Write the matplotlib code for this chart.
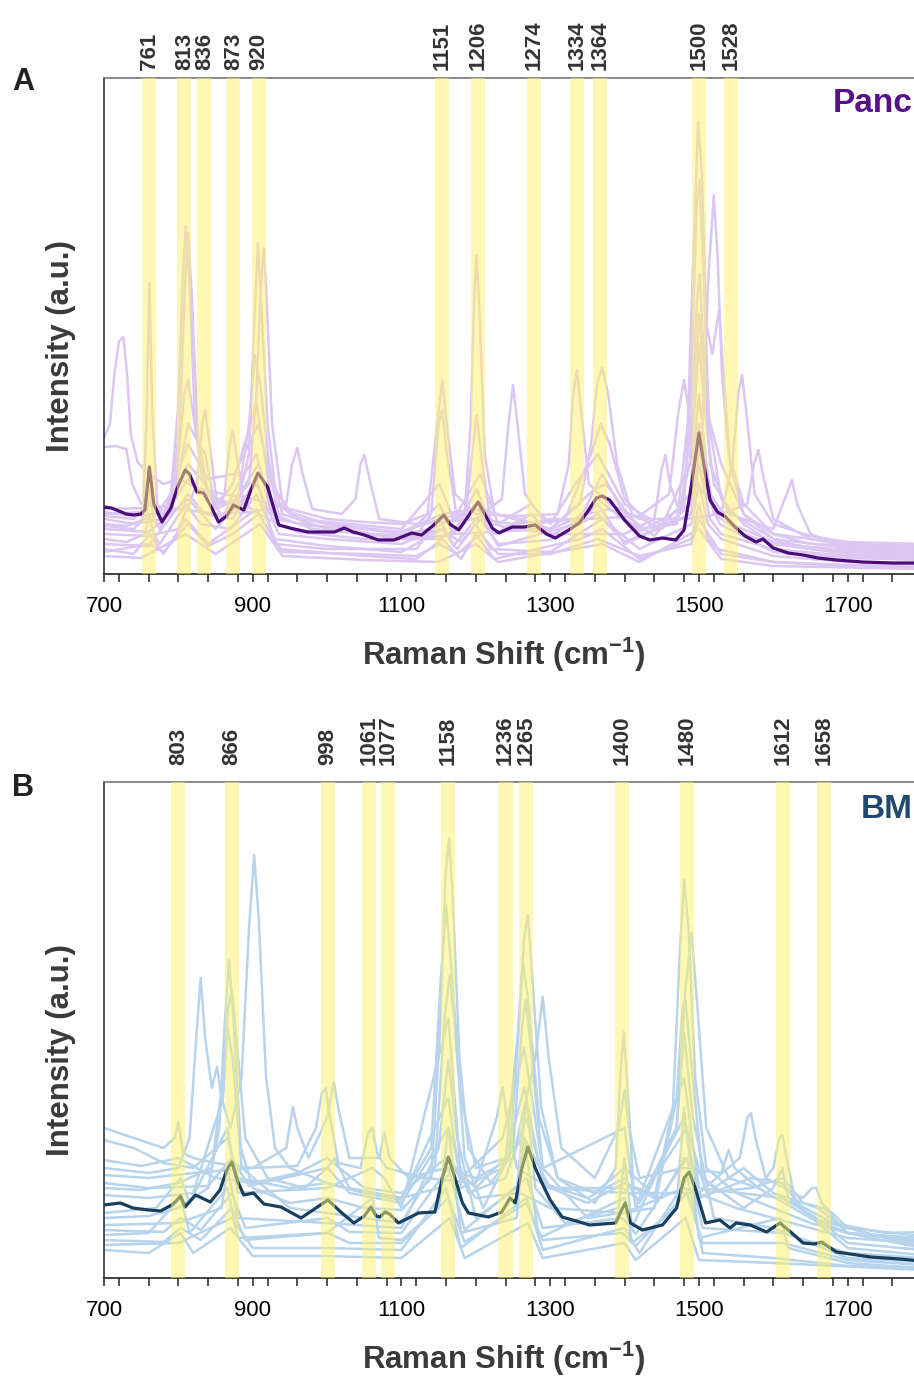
import numpy as np
import matplotlib
matplotlib.use("Agg")
import matplotlib.pyplot as plt
from matplotlib.ticker import FixedLocator, MultipleLocator

plt.rcParams['font.family'] = ['Liberation Sans', 'DejaVu Sans']
plt.rcParams['mathtext.fontset'] = 'custom'
plt.rcParams['mathtext.rm'] = 'Liberation Sans'
plt.rcParams['mathtext.bf'] = 'Liberation Sans:bold'

# ---- peak assignments (label text, band centre as drawn) ----
peaks_a = ["761", "813", "836", "873", "920", "1151", "1206", "1274", "1334", "1364", "1500", "1528"]
bands_a = [761, 808, 835, 874, 908, 1155, 1203, 1278, 1336, 1367, 1500, 1543]
peaks_b = ["803", "866", "998", "1061", "1077", "1158", "1236", "1265", "1400", "1480", "1612", "1658"]
bands_b = [800, 872, 1001, 1056, 1082, 1163, 1240, 1268, 1397, 1484, 1613, 1668]

# ---- Panc: mean spectrum (shift, intensity a.u.) ----
panc_mean = [(700, 67), (710, 66), (720, 63), (730, 60), (740, 59), (750, 60), (755, 64), (761, 107),
             (767, 70), (778, 52), (790, 66), (798, 85), (809, 104), (815, 100), (825, 82), (834, 81),
             (845, 66), (854, 52), (865, 58), (874, 69), (882, 66), (888, 64), (898, 85), (907, 101),
             (920, 87), (935, 49), (950, 46), (974, 42), (990, 42), (1010, 42), (1023, 46), (1035, 42),
             (1050, 39), (1069, 34), (1090, 34), (1114, 41), (1127, 39), (1145, 50), (1157, 59),
             (1165, 50), (1177, 44), (1190, 58), (1203, 72), (1212, 60), (1222, 46), (1231, 41),
             (1249, 47), (1265, 47), (1280, 49), (1295, 40), (1307, 36), (1325, 44), (1339, 51),
             (1352, 64), (1362, 76), (1370, 78), (1380, 74), (1400, 54), (1420, 38), (1434, 34),
             (1451, 36), (1469, 34), (1480, 44), (1490, 89), (1500, 141), (1508, 104), (1515, 74),
             (1525, 62), (1536, 57), (1550, 46), (1562, 38), (1577, 32), (1586, 35), (1600, 26),
             (1620, 21), (1640, 19), (1660, 16), (1685, 14), (1720, 12), (1760, 11), (1800, 11)]

# ---- Panc: individual spectra ----
panc_1 = [(700, 62), (740, 58), (770, 60), (790, 80), (800, 170), (806, 300), (810, 348), (815, 290),
          (822, 160), (832, 95), (850, 70), (880, 72), (895, 120), (902, 250), (907, 331), (912, 260),
          (920, 150), (930, 85), (950, 62), (1000, 50), (1050, 45), (1100, 40), (1140, 45), (1185, 60),
          (1193, 150), (1198, 280), (1201, 319), (1205, 260), (1212, 120), (1225, 60), (1260, 55),
          (1300, 45), (1350, 60), (1380, 65), (1420, 45), (1470, 50), (1485, 150), (1493, 330),
          (1499, 452), (1504, 400), (1510, 250), (1518, 220), (1527, 264), (1533, 200), (1542, 110),
          (1560, 60), (1600, 35), (1650, 25), (1700, 22), (1800, 18)]
panc_2 = [(700, 48), (740, 45), (752, 55), (757, 150), (761, 291), (765, 160), (772, 65), (790, 70),
          (802, 150), (809, 290), (813, 341), (818, 280), (826, 140), (840, 80), (870, 70), (895, 90),
          (905, 180), (911, 290), (915, 326), (919, 270), (926, 150), (940, 70), (970, 50), (1020, 45),
          (1080, 38), (1130, 36), (1170, 40), (1220, 42), (1300, 45), (1340, 70), (1355, 130),
          (1363, 190), (1370, 206), (1378, 180), (1390, 110), (1410, 60), (1450, 45), (1490, 70),
          (1505, 150), (1513, 300), (1520, 379), (1525, 320), (1531, 200), (1540, 120), (1560, 70),
          (1600, 40), (1650, 30), (1700, 28), (1800, 26)]
panc_3 = [(700, 136), (708, 150), (714, 200), (720, 232), (726, 237), (731, 200), (736, 140), (745, 112),
          (760, 100), (780, 90), (800, 95), (830, 85), (860, 80), (900, 75), (950, 65), (1000, 55),
          (1050, 52), (1100, 50), (1135, 60), (1148, 150), (1155, 194), (1161, 150), (1172, 80),
          (1200, 60), (1260, 58), (1310, 60), (1325, 110), (1331, 180), (1336, 204), (1342, 160),
          (1352, 90), (1380, 70), (1420, 55), (1480, 55), (1530, 60), (1545, 110), (1553, 180),
          (1558, 199), (1564, 160), (1575, 80), (1600, 50), (1650, 38), (1700, 32), (1800, 30)]
panc_4 = [(700, 127), (715, 128), (730, 125), (738, 90), (750, 70), (800, 65), (850, 60), (900, 62),
          (945, 70), (953, 110), (960, 126), (967, 100), (980, 65), (1020, 60), (1038, 75), (1045, 110),
          (1050, 119), (1057, 95), (1070, 55), (1120, 50), (1200, 55), (1235, 75), (1244, 150),
          (1250, 189), (1256, 150), (1266, 80), (1290, 55), (1350, 55), (1420, 58), (1460, 80),
          (1472, 160), (1480, 194), (1487, 160), (1497, 90), (1530, 60), (1565, 70), (1574, 110),
          (1580, 124), (1586, 100), (1600, 55), (1650, 35), (1700, 28), (1800, 22)]
panc_5 = [(700, 55), (740, 50), (780, 55), (798, 100), (808, 180), (813, 194), (820, 160), (832, 100),
          (850, 65), (880, 75), (895, 150), (903, 219), (910, 190), (922, 110), (940, 60), (1000, 45),
          (1060, 40), (1120, 38), (1140, 60), (1150, 150), (1155, 164), (1161, 120), (1175, 55),
          (1200, 55), (1250, 50), (1320, 55), (1355, 120), (1368, 150), (1380, 130), (1400, 75),
          (1440, 45), (1480, 70), (1490, 200), (1497, 370), (1501, 394), (1506, 300), (1514, 150),
          (1530, 75), (1560, 50), (1600, 30), (1700, 20), (1800, 17)]
panc_6 = [(700, 40), (760, 38), (800, 45), (825, 90), (832, 150), (836, 164), (842, 130), (852, 70),
          (862, 80), (869, 130), (873, 144), (878, 120), (888, 70), (920, 55), (960, 42), (1050, 35),
          (1150, 35), (1185, 50), (1195, 120), (1201, 159), (1207, 120), (1220, 50), (1300, 40),
          (1400, 40), (1440, 55), (1450, 105), (1455, 119), (1461, 90), (1475, 60), (1490, 150),
          (1497, 270), (1501, 300), (1506, 230), (1515, 110), (1540, 60), (1600, 45), (1618, 80),
          (1625, 94), (1632, 70), (1650, 40), (1700, 25), (1800, 22)]
panc_7 = [(700, 35), (730, 32), (755, 40), (761, 60), (767, 38), (775, 30), (810, 70), (830, 50),
          (870, 45), (905, 80), (930, 35), (1000, 28), (1100, 22), (1155, 45), (1175, 25), (1200, 50),
          (1220, 25), (1300, 22), (1370, 55), (1420, 25), (1490, 50), (1500, 90), (1512, 50), (1530, 35),
          (1600, 18), (1700, 12), (1800, 10)]
panc_8 = [(700, 25), (740, 20), (761, 40), (780, 20), (810, 55), (840, 30), (905, 65), (935, 25),
          (1050, 18), (1120, 15), (1155, 35), (1180, 15), (1200, 40), (1225, 15), (1340, 35),
          (1370, 45), (1420, 15), (1490, 35), (1500, 70), (1512, 35), (1525, 25), (1600, 12),
          (1700, 8), (1800, 6)]
panc_9 = [(700, 50), (730, 48), (756, 55), (761, 85), (767, 55), (775, 45), (813, 110), (836, 90),
          (860, 55), (873, 80), (905, 120), (925, 60), (980, 45), (1050, 40), (1100, 35), (1151, 70),
          (1170, 40), (1201, 85), (1225, 40), (1275, 60), (1300, 38), (1340, 55), (1370, 100),
          (1400, 60), (1440, 38), (1488, 80), (1500, 180), (1510, 110), (1520, 60), (1560, 40),
          (1600, 30), (1700, 24), (1800, 20)]
panc_10 = [(700, 18), (750, 16), (810, 40), (850, 20), (910, 50), (940, 18), (1050, 14), (1150, 12),
           (1200, 30), (1230, 12), (1370, 30), (1420, 12), (1500, 45), (1530, 15), (1600, 8), (1800, 5)]
panc_11 = [(700, 65), (755, 66), (761, 80), (768, 66), (780, 60), (813, 130), (840, 95), (875, 100),
           (908, 150), (935, 60), (1000, 50), (1100, 42), (1155, 60), (1200, 65), (1240, 45),
           (1300, 45), (1360, 85), (1375, 90), (1420, 45), (1470, 50), (1490, 120), (1500, 230),
           (1510, 150), (1520, 90), (1545, 60), (1600, 35), (1700, 26), (1800, 24)]
panc_12 = [(700, 30), (760, 28), (813, 80), (836, 60), (873, 55), (905, 95), (930, 30), (1000, 25),
           (1120, 25), (1151, 55), (1170, 28), (1206, 60), (1230, 28), (1334, 50), (1364, 70),
           (1400, 30), (1490, 60), (1500, 130), (1510, 80), (1528, 50), (1600, 22), (1700, 16), (1800, 14)]
panc_13 = [(700, 60), (755, 62), (761, 70), (790, 60), (813, 150), (836, 120), (850, 65), (873, 90),
           (905, 170), (925, 75), (960, 55), (1030, 50), (1100, 45), (1151, 90), (1170, 55), (1206, 100),
           (1230, 50), (1274, 70), (1300, 50), (1334, 90), (1364, 120), (1400, 70), (1450, 48),
           (1488, 110), (1500, 260), (1512, 160), (1530, 110), (1560, 60), (1600, 40), (1700, 30), (1800, 28)]
panc_14 = [(700, 45), (760, 42), (813, 75), (850, 45), (905, 90), (935, 40), (1000, 35), (1100, 30),
           (1151, 45), (1180, 32), (1206, 55), (1230, 30), (1300, 34), (1364, 60), (1400, 32),
           (1490, 60), (1500, 110), (1515, 55), (1530, 40), (1600, 25), (1700, 18), (1800, 16)]
panc_15 = [(700, 22), (761, 30), (780, 22), (813, 50), (840, 28), (873, 40), (908, 60), (940, 22),
           (1050, 20), (1120, 18), (1151, 30), (1175, 20), (1206, 40), (1230, 20), (1300, 20),
           (1364, 35), (1420, 18), (1490, 30), (1500, 55), (1530, 20), (1600, 12), (1700, 9), (1800, 8)]
panc_16 = [(700, 58), (740, 55), (761, 72), (780, 56), (813, 95), (836, 80), (873, 70), (908, 110),
           (930, 55), (980, 48), (1050, 45), (1100, 42), (1151, 55), (1206, 65), (1274, 50), (1334, 55),
           (1364, 75), (1420, 42), (1488, 70), (1500, 150), (1515, 80), (1543, 50), (1600, 32),
           (1700, 22), (1800, 20)]

# ---- BM: mean spectrum ----
bm_mean = [(700, 73), (722, 75), (739, 70), (760, 68), (776, 67), (791, 73), (797, 77), (803, 82),
           (809, 71), (823, 83), (843, 76), (856, 88), (865, 108), (872, 116), (880, 96), (888, 83),
           (901, 85), (915, 74), (938, 71), (965, 60), (985, 70), (1001, 78), (1020, 65), (1036, 55),
           (1050, 62), (1059, 71), (1066, 62), (1071, 61), (1078, 66), (1084, 64), (1096, 55),
           (1123, 65), (1145, 66), (1155, 100), (1163, 121), (1172, 100), (1182, 75), (1190, 65),
           (1217, 61), (1235, 66), (1246, 80), (1253, 75), (1262, 110), (1270, 131), (1280, 110),
           (1289, 95), (1300, 78), (1316, 61), (1335, 57), (1353, 53), (1388, 55), (1396, 68),
           (1401, 75), (1408, 55), (1424, 48), (1451, 53), (1470, 70), (1480, 100), (1487, 106),
           (1495, 90), (1509, 55), (1528, 58), (1542, 50), (1550, 55), (1569, 53), (1591, 46),
           (1609, 55), (1625, 45), (1640, 35), (1655, 34), (1665, 36), (1685, 26), (1731, 21),
           (1770, 19), (1800, 17)]

# ---- BM: individual spectra ----
bm_1 = [(700, 110), (760, 105), (800, 110), (815, 140), (824, 240), (830, 300), (836, 240), (845, 190),
        (852, 211), (858, 180), (870, 150), (885, 200), (895, 350), (902, 423), (908, 360), (918, 200),
        (930, 130), (950, 110), (1000, 95), (1050, 85), (1100, 80), (1150, 90), (1170, 110),
        (1200, 80), (1260, 85), (1300, 70), (1400, 65), (1480, 90), (1550, 70), (1600, 60),
        (1700, 40), (1800, 35)]
bm_2 = [(700, 60), (760, 62), (800, 70), (840, 90), (855, 150), (862, 250), (868, 318), (874, 260),
        (884, 130), (900, 90), (950, 75), (1000, 80), (1050, 70), (1100, 68), (1140, 100), (1152, 250),
        (1159, 400), (1164, 440), (1169, 380), (1178, 220), (1190, 130), (1220, 95), (1245, 120),
        (1258, 250), (1265, 340), (1270, 363), (1276, 300), (1288, 170), (1310, 100), (1360, 75),
        (1388, 110), (1395, 210), (1399, 246), (1404, 190), (1412, 90), (1440, 80), (1465, 170),
        (1474, 320), (1480, 398), (1486, 350), (1495, 200), (1510, 110), (1550, 85), (1600, 70),
        (1650, 55), (1700, 45), (1800, 40)]
bm_3 = [(700, 90), (750, 88), (800, 95), (845, 110), (860, 200), (867, 270), (872, 288), (878, 240),
        (890, 140), (920, 100), (970, 90), (1000, 110), (1010, 120), (1030, 90), (1100, 80),
        (1140, 130), (1153, 300), (1160, 373), (1166, 320), (1180, 180), (1200, 110), (1240, 120),
        (1256, 240), (1263, 318), (1270, 280), (1285, 160), (1310, 100), (1360, 85), (1400, 110),
        (1430, 90), (1470, 150), (1482, 290), (1490, 345), (1497, 280), (1510, 150), (1540, 100),
        (1580, 90), (1600, 110), (1608, 140), (1612, 143), (1618, 120), (1630, 75), (1680, 55),
        (1750, 45), (1800, 46)]
bm_4 = [(700, 150), (740, 140), (780, 130), (795, 140), (800, 156), (806, 125), (820, 120), (850, 115),
        (900, 110), (960, 112), (985, 150), (993, 185), (998, 190), (1004, 160), (1015, 115),
        (1045, 110), (1055, 145), (1061, 150), (1067, 125), (1080, 110), (1130, 100), (1200, 95),
        (1228, 160), (1236, 191), (1242, 160), (1255, 110), (1300, 90), (1400, 85), (1500, 85),
        (1555, 120), (1565, 160), (1570, 165), (1576, 140), (1590, 100), (1640, 80), (1652, 90),
        (1658, 90), (1665, 75), (1700, 50), (1800, 31)]
bm_5 = [(700, 103), (760, 100), (820, 105), (900, 110), (945, 130), (954, 171), (960, 150), (975, 120),
        (1000, 160), (1009, 196), (1015, 170), (1030, 120), (1070, 120), (1077, 145), (1084, 120),
        (1110, 100), (1160, 110), (1200, 100), (1250, 120), (1280, 220), (1290, 281), (1298, 220),
        (1315, 130), (1360, 100), (1392, 150), (1400, 188), (1406, 150), (1420, 100), (1480, 110),
        (1530, 105), (1540, 128), (1548, 110), (1580, 90), (1650, 60), (1700, 45), (1800, 38)]
bm_6 = [(700, 83), (760, 80), (820, 85), (860, 180), (866, 250), (873, 220), (885, 110), (950, 70),
        (1050, 60), (1100, 55), (1145, 110), (1158, 260), (1165, 303), (1172, 250), (1185, 120),
        (1210, 70), (1250, 130), (1262, 250), (1267, 278), (1274, 230), (1290, 110), (1350, 60),
        (1440, 70), (1470, 180), (1478, 270), (1482, 278), (1488, 230), (1505, 100), (1560, 70),
        (1600, 90), (1612, 110), (1620, 80), (1700, 30), (1800, 23)]
bm_7 = [(700, 53), (800, 55), (858, 70), (866, 110), (880, 60), (1000, 55), (1100, 50), (1150, 130),
        (1163, 218), (1175, 140), (1200, 60), (1255, 90), (1268, 180), (1280, 90), (1320, 55),
        (1392, 70), (1400, 120), (1410, 50), (1470, 150), (1480, 245), (1492, 160), (1520, 60),
        (1600, 50), (1700, 20), (1800, 16)]
bm_8 = [(700, 43), (760, 45), (803, 80), (815, 45), (866, 90), (880, 40), (1000, 45), (1061, 80),
        (1070, 40), (1100, 38), (1150, 70), (1163, 150), (1180, 45), (1255, 60), (1265, 140),
        (1285, 40), (1400, 80), (1410, 35), (1470, 70), (1480, 170), (1500, 40), (1610, 60),
        (1620, 30), (1700, 15), (1800, 10)]
bm_9 = [(700, 33), (800, 35), (872, 60), (900, 30), (1000, 30), (1100, 28), (1160, 90), (1180, 30),
        (1268, 80), (1290, 28), (1400, 50), (1420, 25), (1485, 100), (1505, 25), (1600, 20),
        (1700, 12), (1800, 10)]
bm_10 = [(700, 28), (760, 25), (803, 45), (820, 25), (870, 50), (900, 22), (1000, 22), (1100, 20),
         (1165, 60), (1185, 20), (1270, 55), (1290, 20), (1400, 35), (1415, 18), (1482, 60),
         (1500, 18), (1600, 15), (1800, 8)]
bm_11 = [(700, 138), (740, 130), (780, 115), (820, 110), (866, 140), (880, 100), (950, 90), (1000, 95),
         (1050, 85), (1100, 78), (1163, 180), (1180, 90), (1236, 110), (1265, 190), (1290, 95),
         (1350, 80), (1400, 100), (1420, 75), (1480, 160), (1500, 80), (1570, 100), (1612, 95),
         (1650, 60), (1700, 50), (1800, 42)]
bm_12 = [(700, 118), (750, 112), (800, 120), (850, 100), (900, 95), (960, 105), (1000, 120), (1050, 90),
         (1100, 85), (1160, 120), (1200, 90), (1265, 140), (1300, 90), (1350, 75), (1400, 95),
         (1450, 80), (1480, 120), (1520, 90), (1560, 110), (1600, 85), (1660, 70), (1700, 45), (1800, 30)]
bm_13 = [(700, 65), (770, 70), (803, 100), (815, 75), (866, 150), (880, 85), (1000, 90), (1061, 110),
         (1077, 100), (1100, 70), (1163, 260), (1180, 100), (1236, 140), (1265, 230), (1290, 110),
         (1400, 150), (1415, 70), (1480, 200), (1500, 90), (1612, 80), (1658, 60), (1700, 35), (1800, 28)]
bm_14 = [(700, 48), (780, 46), (803, 60), (830, 48), (872, 85), (890, 50), (1001, 60), (1030, 46),
         (1100, 45), (1163, 110), (1185, 48), (1268, 100), (1290, 50), (1397, 60), (1415, 44),
         (1484, 120), (1505, 50), (1613, 45), (1700, 25), (1800, 20)]
bm_15 = [(700, 38), (780, 36), (803, 50), (830, 38), (872, 70), (890, 38), (1001, 45), (1030, 35),
         (1100, 35), (1163, 80), (1185, 36), (1268, 75), (1290, 38), (1397, 45), (1415, 32),
         (1484, 85), (1505, 35), (1613, 35), (1700, 18), (1800, 13)]
bm_16 = [(700, 95), (760, 90), (840, 92), (872, 120), (895, 92), (1001, 110), (1030, 85), (1100, 75),
         (1163, 150), (1190, 85), (1240, 100), (1268, 160), (1295, 90), (1397, 90), (1420, 78),
         (1484, 150), (1510, 85), (1570, 90), (1613, 100), (1640, 75), (1668, 70), (1700, 45), (1800, 36)]

panc_spectra = [panc_1, panc_2, panc_3, panc_4, panc_5, panc_6, panc_7, panc_8,
                panc_9, panc_10, panc_11, panc_12, panc_13, panc_14, panc_15, panc_16]
bm_spectra = [bm_1, bm_2, bm_3, bm_4, bm_5, bm_6, bm_7, bm_8,
              bm_9, bm_10, bm_11, bm_12, bm_13, bm_14, bm_15, bm_16]


def draw_panel(ax, spectra, mean, bands, labels, light, dark, label_gap):
    for s in spectra:
        x, y = zip(*s)
        ax.plot(x, y, color=light, lw=1.8, zorder=2)
    x, y = zip(*mean)
    ax.plot(x, y, color=dark, lw=2.3, zorder=3)
    for c, lab in zip(bands, labels):
        ax.axvspan(c - 9.5, c + 9.5, color='#FFF36B', alpha=0.5, lw=0, zorder=4)
        ax.annotate(lab, xy=(c, 1.0), xycoords=('data', 'axes fraction'),
                    xytext=(0, label_gap), textcoords='offset points', rotation=90,
                    ha='center', va='bottom', fontsize=16, fontweight='bold', color='#333333')
    ax.set_xlim(700, 1800)
    ax.set_ylim(0, 496)
    ax.xaxis.set_major_locator(FixedLocator([700, 900, 1100, 1300, 1500, 1700]))
    ax.xaxis.set_minor_locator(MultipleLocator(40))
    ax.tick_params(axis='x', which='both', direction='out', length=6, width=1.1,
                   color='#222222', labelsize=16, pad=10)
    ax.tick_params(axis='y', left=False, labelleft=False)
    ax.spines['left'].set_color('#333333')
    ax.spines['bottom'].set_color('#222222')
    ax.spines['top'].set_color('#777777')
    for sp in ax.spines.values():
        sp.set_linewidth(1.2)
    ax.set_xlabel(r'Raman Shift (cm$^{\mathregular{-1}}$)', fontsize=22.5, fontweight='bold',
                  color='#3a3a3a')
    ax.set_ylabel('Intensity (a.u.)', fontsize=22.5, fontweight='bold', color='#3a3a3a')
    ax.xaxis.set_label_coords(0.489, -0.125)
    ax.yaxis.set_label_coords(-0.034, 0.46)


fig = plt.figure(figsize=(9.14, 13.79), dpi=100)
ax_a = fig.add_axes([104 / 914, 1 - 574 / 1379, 818 / 914, 496 / 1379])
ax_b = fig.add_axes([104 / 914, 1 - 1278 / 1379, 818 / 914, 496 / 1379])

draw_panel(ax_a, panc_spectra, panc_mean, bands_a, peaks_a, '#DCC7F3', '#4B0C7A', 6)
draw_panel(ax_b, bm_spectra, bm_mean, bands_b, peaks_b, '#B7D4EC', '#183F5E', 12)

fig.text(12 / 914, 1 - 82 / 1379, 'A', fontsize=22, fontweight='bold', color='#222222', va='center')
fig.text(12 / 914, 1 - 788 / 1379, 'B', fontsize=22, fontweight='bold', color='#222222', va='center')
fig.text(913 / 914, 1 - 103 / 1379, 'Panc', fontsize=24, fontweight='bold', color='#56108C',
         ha='right', va='center')
fig.text(913 / 914, 1 - 810 / 1379, 'BM', fontsize=24, fontweight='bold', color='#1F4A6E',
         ha='right', va='center')

fig.savefig('out.png', dpi=100)
